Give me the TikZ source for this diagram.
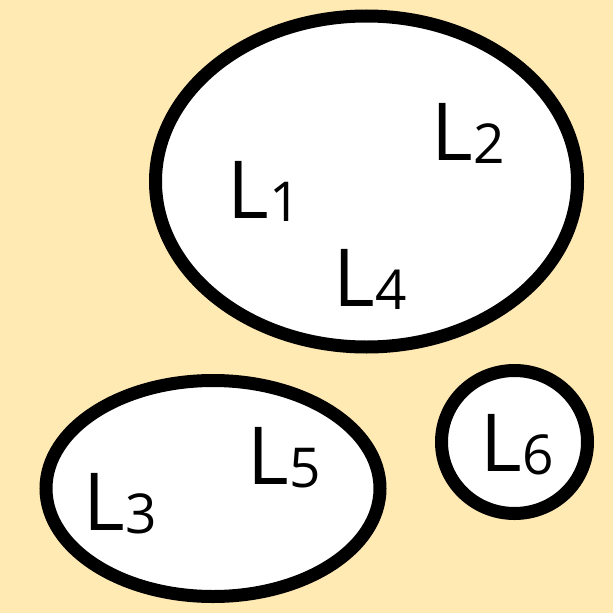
\documentclass[tikz,border=0pt]{standalone}
\usepackage{fontspec}
\setmainfont{Open Sans}
\definecolor{paper}{RGB}{255,234,180}
\tikzset{
  region/.style={draw=black, fill=white, line width=13pt},
  lab/.style={anchor=base west, inner sep=0pt, font=\fontsize{80}{80}\selectfont}
}
\newcommand{\lsub}[1]{L\kern1pt\raisebox{-3.5pt}{\fontsize{55}{55}\selectfont #1}}
\begin{document}
\begin{tikzpicture}[x=1pt, y=-1pt]
  % canvas
  \fill[paper] (0,0) rectangle (613,613);
  \useasboundingbox (0,0) rectangle (613,613);
  % regions
  \draw[region] (366.5,181.5) ellipse [x radius=211, y radius=165.5];
  \draw[region] (213,488.5) ellipse [x radius=167, y radius=108];
  \draw[region] (514.5,442) ellipse [x radius=73, y radius=71.5];
  % labels
  \node[lab] (l1) at (227,218) {\lsub{1}};
  \node[lab] (l2) at (431,160) {\lsub{2}};
  \node[lab] (l4) at (333,306) {\lsub{4}};
  \node[lab] (l5) at (247,484) {\lsub{5}};
  \node[lab] (l3) at (83,530) {\lsub{3}};
  \node[lab] (l6) at (480,471) {\lsub{6}};
\end{tikzpicture}
\end{document}
